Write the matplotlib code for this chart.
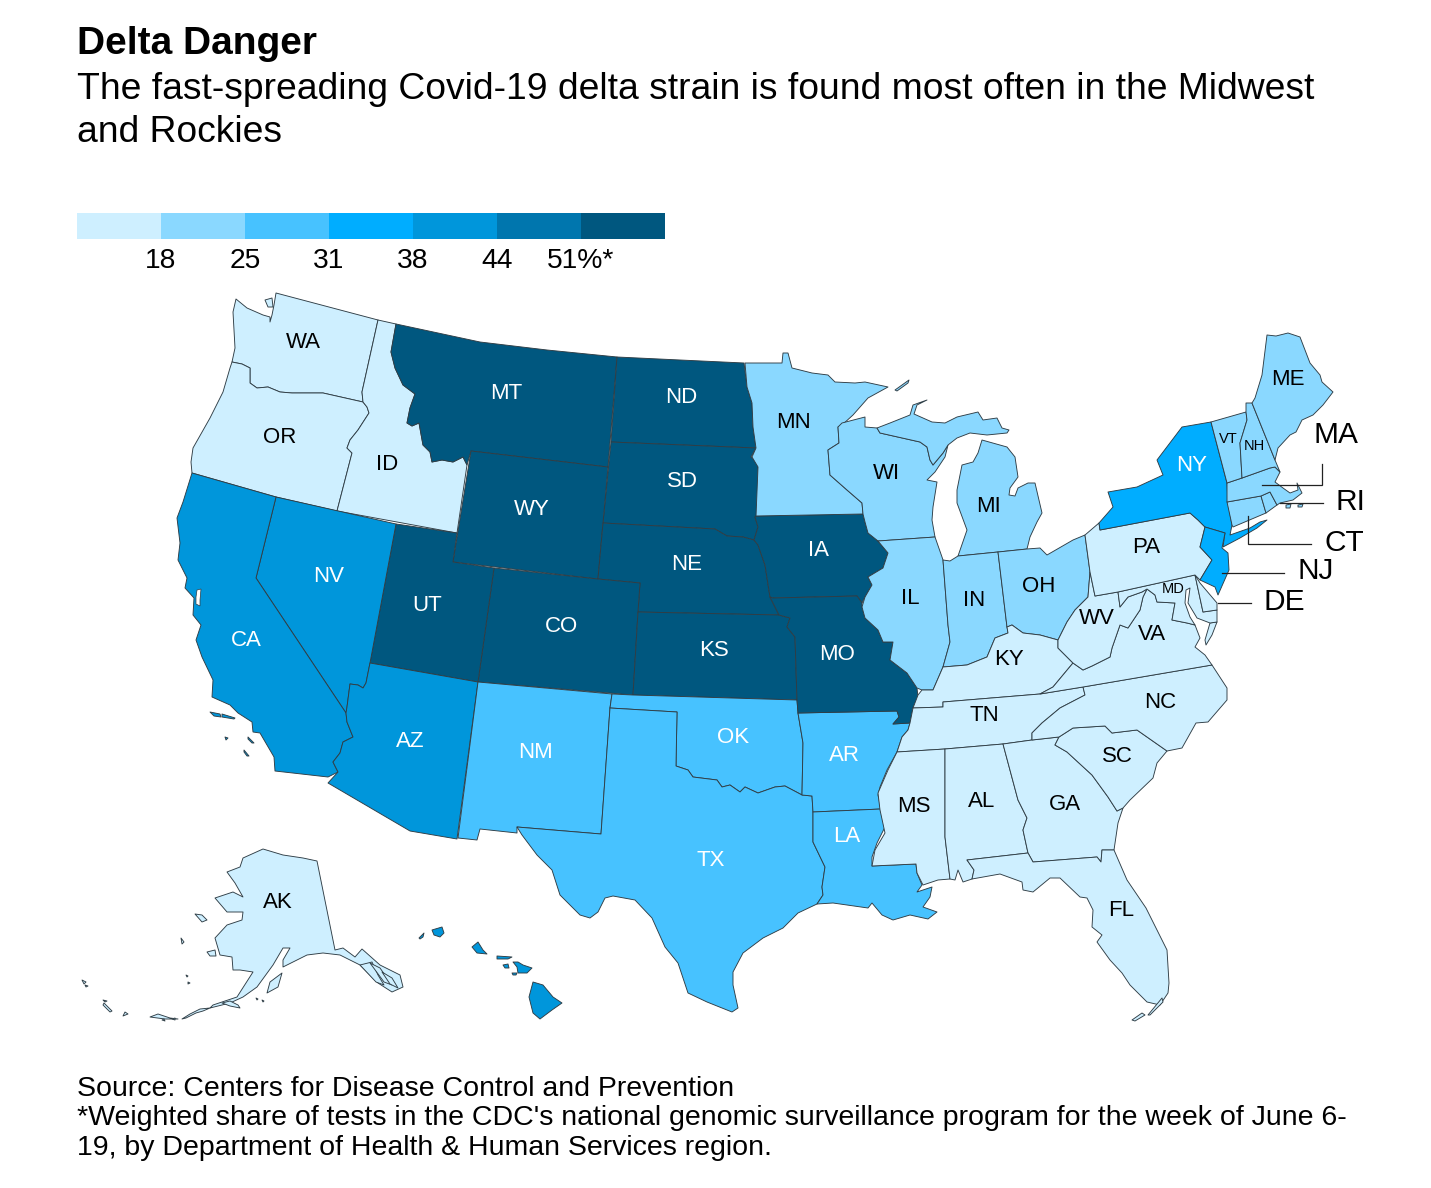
import matplotlib
matplotlib.use("Agg")
import matplotlib.pyplot as plt
from matplotlib.colors import ListedColormap, BoundaryNorm
from matplotlib.patches import Polygon

plt.rcParams['font.family'] = ['Liberation Sans', 'DejaVu Sans']

TITLE = "Delta Danger"
SUBTITLE = ["The fast-spreading Covid-19 delta strain is found most often in the Midwest", "and Rockies"]
SOURCE = ["Source: Centers for Disease Control and Prevention",
          "*Weighted share of tests in the CDC's national genomic surveillance program for the week of June 6-",
          "19, by Department of Health & Human Services region."]

BIN_EDGES = [0, 18, 25, 31, 38, 44, 51, 100]
BIN_LABELS = ["18", "25", "31", "38", "44", "51%*"]
BIN_COLORS = ["#CEEFFF", "#8AD8FF", "#47C2FF", "#00ADFF", "#0096DB", "#0076AE", "#00577F"]

REGION_SHARE = {
    14: ["WA", "OR", "ID", "AK", "PA", "DE", "MD", "VA", "WV", "KY", "TN", "NC", "SC", "GA", "FL", "AL", "MS"],
    21: ["MN", "WI", "MI", "IL", "IN", "OH", "ME", "NH", "VT", "MA", "CT", "RI"],
    28: ["TX", "NM", "OK", "AR", "LA"],
    34: ["NY", "NJ"],
    41: ["CA", "NV", "AZ", "HI"],
    55: ["MT", "ND", "SD", "WY", "UT", "CO", "NE", "KS", "IA", "MO"],
}

OUTLINES = {
"WA": [[(276,293),(378,320),(362,392),(363,402),(323,393),(303,393),(292,393),(280,392),(268,387),(257,388),(250,383),(250,368),(242,364),(232,362),(235,348),(233,312),(236,299),(247,308),(263,315),(270,317),(270,322),(272,315),(274,305)],
       [(265,300),(272,298),(273,307),(268,307)]],
"OR": [[(232,362),(242,364),(250,368),(250,383),(257,388),(268,387),(280,392),(292,393),(303,393),(323,393),(363,402),(367,407),(369,413),(358,430),(350,440),(347,448),(352,453),(337,511),(276,497),(192,473),(191,462),(193,448),(210,418),(223,392),(230,368)]],
"ID": [[(378,320),(396,324),(391,352),(395,368),(403,385),(415,394),(410,408),(407,423),(412,426),(419,423),(423,445),(430,452),(432,462),(442,460),(453,462),(463,457),(467,465),(457,533),(337,511),(352,453),(347,448),(350,440),(358,430),(369,413),(367,407),(363,402),(362,392)]],
"MT": [[(396,324),(480,342),(547,350),(617,357),(608,467),(471,451),(467,465),(463,457),(453,462),(442,460),(432,462),(430,452),(423,445),(419,423),(412,426),(407,423),(410,408),(415,394),(403,385),(395,368),(391,352)]],
"ND": [[(617,357),(680,360),(744,363),(747,387),(752,403),(753,427),(756,448),(611,442)]],
"SD": [[(611,442),(756,448),(751,457),(758,463),(758,517),(755,517),(758,527),(754,540),(743,537),(727,536),(715,529),(603,523)]],
"WY": [[(471,451),(608,467),(598,579),(453,562)]],
"NE": [[(603,523),(715,529),(727,536),(743,537),(754,540),(758,545),(765,565),(770,597),(779,615),(638,612),(640,583),(598,579)]],
"CO": [[(494,568),(598,579),(640,583),(638,612),(633,695),(478,682)]],
"KS": [[(638,612),(779,615),(790,618),(787,627),(795,637),(797,700),(633,695)]],
"UT": [[(396,524),(457,533),(453,562),(494,568),(478,682),(370,663)]],
"NV": [[(276,497),(396,524),(370,663),(366,683),(363,688),(358,685),(350,684),(347,707),(346,713),(256,578)]],
"CA": [[(192,473),(276,497),(256,578),(346,713),(347,722),(353,737),(343,742),(340,753),(333,762),(338,772),(328,777),(275,771),(274,757),(260,733),(253,732),(252,722),(238,713),(230,705),(212,697),(213,680),(202,657),(196,640),(201,625),(193,615),(194,598),(185,588),(187,578),(178,560),(180,543),(177,518),(183,502)],
       [(210,712),(220,714),(221,717),(214,716)],[(222,714),(235,718),(234,719),(222,717)],[(248,737),(254,743),(252,743),(248,739)],[(244,750),(249,756),(247,756),(244,752)],[(225,737),(228,738),(226,740)]],
"AZ": [[(370,663),(478,682),(457,839),(410,831),(328,783),(338,772),(333,762),(340,753),(343,742),(353,737),(347,722),(346,713),(347,707),(350,684),(358,685),(363,688),(366,683)]],
"NM": [[(478,682),(612,694),(610,708),(601,834),(517,827),(517,833),(480,829),(477,840),(458,838)]],
"OK": [[(612,694),(633,695),(797,700),(798,713),(803,743),(802,795),(785,786),(775,787),(758,793),(745,787),(740,792),(730,785),(722,787),(717,780),(693,777),(688,770),(676,766),(677,712),(610,708)]],
"TX": [[(610,708),(677,712),(676,766),(688,770),(693,777),(717,780),(722,787),(730,785),(740,792),(745,787),(758,793),(775,787),(785,786),(802,795),(812,796),(813,812),(813,842),(825,867),(822,887),(823,895),(817,904),(798,913),(783,928),(763,938),(743,953),(733,972),(733,985),(738,1008),(732,1012),(707,1002),(688,993),(678,963),(665,947),(652,918),(635,900),(613,896),(605,898),(598,912),(590,918),(580,915),(560,895),(552,870),(537,855),(522,835),(517,827),(601,834)]],
"AR": [[(798,713),(897,711),(899,717),(893,724),(910,723),(908,730),(902,737),(897,752),(887,770),(880,787),(878,795),(881,809),(813,812),(812,796),(802,795),(803,743)]],
"LA": [[(813,812),(881,809),(885,827),(877,843),(872,857),(872,866),(916,864),(917,873),(922,885),(917,892),(932,887),(930,897),(923,907),(937,912),(928,919),(910,915),(893,920),(882,915),(872,903),(868,908),(833,903),(817,904),(823,895),(822,887),(825,867),(813,842)]],
"IA": [[(756,516),(863,514),(865,522),(868,533),(878,541),(888,553),(883,568),(868,577),(872,585),(865,597),(862,603),(857,596),(773,598),(770,597),(765,565),(758,545),(754,540),(758,527),(755,517)]],
"MO": [[(773,598),(857,596),(862,603),(862,607),(865,618),(878,630),(883,642),(893,642),(890,660),(907,673),(917,688),(918,697),(913,708),(910,723),(893,724),(899,717),(897,711),(798,713),(797,700),(795,637),(787,627),(790,618),(779,615),(770,597)]],
"MN": [[(745,363),(782,363),(783,353),(788,353),(792,368),(812,373),(828,375),(835,382),(855,383),(865,382),(888,387),(868,398),(853,415),(842,425),(838,427),(839,443),(828,450),(830,475),(847,490),(862,503),(863,514),(756,516),(758,467),(752,457),(756,448),(753,427),(752,403),(747,387)],
       [(895,390),(909,380),(908,383),(897,391)]],
"WI": [[(838,427),(842,423),(865,417),(865,427),(877,428),(880,433),(920,442),(927,447),(930,460),(933,465),(943,453),(948,445),(945,457),(935,472),(927,480),(937,482),(933,507),(932,520),(935,537),(878,541),(868,533),(865,522),(863,514),(862,503),(847,490),(830,475),(828,450),(839,443)]],
"MI": [[(877,428),(890,423),(910,415),(913,405),(927,400),(917,405),(914,414),(932,422),(945,423),(957,417),(978,412),(983,420),(997,418),(1002,428),(1009,430),(1007,433),(987,435),(970,433),(957,438),(948,445),(943,453),(933,465),(930,460),(927,447),(920,442),(880,433)],
       [(982,440),(1007,447),(1015,457),(1018,477),(1010,488),(1009,495),(1015,496),(1018,488),(1028,483),(1035,483),(1042,513),(1037,522),(1030,537),(1027,549),(998,552),(958,556),(967,530),(957,503),(957,490),(962,465),(973,462),(978,453)]],
"IL": [[(878,541),(935,537),(942,557),(943,560),(948,625),(950,642),(943,667),(933,690),(922,690),(917,688),(907,673),(890,660),(893,642),(883,642),(878,630),(865,618),(862,607),(865,597),(872,585),(868,577),(883,568),(888,553)]],
"IN": [[(943,560),(950,561),(958,556),(998,552),(1007,627),(1008,633),(995,638),(987,657),(967,665),(943,667),(950,642),(948,625)]],
"OH": [[(998,552),(1027,549),(1040,548),(1047,555),(1073,540),(1085,535),(1090,572),(1088,597),(1075,610),(1067,622),(1058,640),(1040,635),(1023,633),(1012,625),(1007,627)]],
"KY": [[(1058,640),(1040,635),(1023,633),(1012,625),(1007,627),(1008,633),(995,638),(987,657),(967,665),(943,667),(933,690),(922,690),(918,695),(913,708),(943,707),(943,702),(1040,694),(1053,687),(1073,663),(1058,648)]],
"TN": [[(913,708),(943,707),(943,702),(1040,694),(1083,687),(1085,695),(1060,708),(1042,723),(1032,733),(1032,740),(1003,744),(945,749),(897,752),(902,737),(908,730),(910,723)]],
"MS": [[(897,752),(945,749),(945,837),(950,879),(938,880),(923,885),(917,873),(916,864),(872,866),(875,850),(885,833),(880,810),(878,793),(888,770)]],
"AL": [[(945,749),(1003,744),(1018,800),(1027,818),(1023,830),(1028,853),(967,860),(974,870),(972,879),(963,882),(958,870),(955,880),(950,879),(945,837)]],
"GA": [[(1003,744),(1032,740),(1059,737),(1055,745),(1067,752),(1092,775),(1108,797),(1117,811),(1123,808),(1118,823),(1114,850),(1102,850),(1101,862),(1097,857),(1033,862),(1028,853),(1023,830),(1027,818),(1018,800)]],
"SC": [[(1059,737),(1073,728),(1105,726),(1112,733),(1137,730),(1167,751),(1157,763),(1153,778),(1130,800),(1123,808),(1117,811),(1108,797),(1092,775),(1067,752),(1055,745)]],
"NC": [[(1083,687),(1212,665),(1227,688),(1227,700),(1208,722),(1196,723),(1182,748),(1167,751),(1137,730),(1112,733),(1105,726),(1073,728),(1059,737),(1032,740),(1032,733),(1042,723),(1060,708),(1085,695)]],
"FL": [[(967,860),(1028,853),(1033,862),(1097,857),(1101,862),(1102,850),(1114,850),(1127,880),(1146,908),(1167,950),(1169,983),(1168,993),(1160,1005),(1147,1002),(1130,985),(1122,973),(1110,960),(1097,942),(1102,935),(1092,927),(1093,910),(1087,898),(1080,897),(1060,878),(1050,878),(1033,892),(1023,890),(1022,882),(1000,874),(972,879),(974,870)],
       [(1132,1020),(1142,1013),(1145,1015),(1135,1021)],[(1148,1015),(1162,998),(1163,1002),(1150,1015)]],
"VA": [[(1073,663),(1083,670),(1092,666),(1110,657),(1112,648),(1120,625),(1128,628),(1140,610),(1143,597),(1147,589),(1155,595),(1157,602),(1175,603),(1172,620),(1187,623),(1195,625),(1200,638),(1195,647),(1205,655),(1212,665),(1083,687),(1040,694),(1053,687)],
       [(1217,622),(1210,623),(1205,640),(1206,645),(1212,635)]],
"WV": [[(1073,663),(1083,670),(1092,666),(1110,657),(1112,648),(1120,625),(1128,628),(1140,610),(1143,597),(1147,589),(1142,592),(1128,597),(1120,607),(1118,592),(1095,596),(1090,572),(1088,597),(1075,610),(1067,622),(1058,640),(1058,648)]],
"MD": [[(1118,592),(1195,575),(1203,612),(1217,610),(1217,622),(1210,623),(1197,618),(1188,603),(1190,588),(1186,590),(1185,603),(1190,617),(1195,625),(1187,623),(1172,620),(1175,603),(1157,602),(1155,595),(1147,589),(1142,592),(1128,597),(1120,607)]],
"DE": [[(1195,575),(1200,583),(1217,603),(1217,610),(1203,612)]],
"PA": [[(1085,535),(1099,523),(1100,530),(1190,513),(1198,520),(1205,527),(1200,547),(1212,560),(1200,580),(1195,575),(1118,592),(1095,596),(1090,572)]],
"NY": [[(1100,530),(1099,523),(1113,507),(1108,492),(1137,487),(1163,475),(1157,460),(1182,427),(1211,422),(1227,483),(1228,503),(1232,525),(1230,535),(1250,528),(1260,522),(1267,520),(1257,528),(1240,538),(1223,547),(1225,533),(1205,527),(1198,520),(1190,513)]],
"NJ": [[(1205,527),(1225,533),(1222,548),(1228,553),(1229,570),(1218,595),(1215,587),(1200,580),(1212,560),(1200,547)]],
"CT": [[(1227,502),(1261,496),(1266,513),(1233,527),(1232,525)]],
"RI": [[(1261,496),(1270,492),(1277,505),(1266,513)]],
"MA": [[(1227,483),(1242,478),(1270,468),(1275,467),(1280,472),(1275,482),(1283,488),(1290,493),(1298,490),(1297,483),(1302,493),(1293,500),(1280,503),(1277,505),(1270,492),(1261,496),(1227,502)],
       [(1286,505),(1291,504),(1290,508),(1286,508)],[(1298,505),(1303,504),(1302,507),(1298,507)]],
"VT": [[(1211,422),(1246,412),(1247,420),(1240,443),(1242,478),(1227,483)]],
"NH": [[(1246,412),(1246,403),(1252,403),(1275,460),(1280,472),(1275,467),(1270,468),(1242,478),(1240,443),(1247,420)]],
"ME": [[(1252,403),(1255,398),(1262,375),(1267,335),(1276,336),(1288,333),(1300,337),(1310,363),(1320,375),(1322,382),(1333,392),(1323,405),(1313,415),(1302,420),(1296,432),(1290,435),(1278,448),(1275,460)]],
"AK": [[(317,861),(335,950),(343,948),(355,957),(362,949),(380,965),(400,975),(403,987),(392,992),(378,983),(360,965),(340,955),(323,953),(307,955),(283,967),(283,960),(290,948),(283,948),(273,965),(257,987),(243,997),(230,1003),(210,1008),(213,1005),(237,997),(253,972),(240,970),(233,970),(232,957),(220,955),(215,938),(227,925),(242,920),(243,912),(227,912),(215,898),(233,892),(243,897),(235,883),(227,872),(240,867),(243,858),(263,849),(283,855),(303,858)],
       [(267,993),(270,982),(282,973),(278,987)],[(207,952),(215,950),(216,956),(210,956)],[(195,914),(202,915),(207,920),(202,922)],
       [(360,965),(372,962),(378,975),(384,985),(376,982)],[(370,963),(380,968),(392,985),(384,982)],[(382,972),(392,978),(398,988),(390,984)],
       [(210,1008),(203,1011),(196,1013),(186,1018),(182,1019),(190,1014),(200,1009)],[(222,1003),(230,1001),(238,1005),(240,1008),(230,1006)],
       [(158,1014),(170,1018),(178,1019),(165,1019),(150,1017)],[(125,1012),(128,1014),(123,1016)],[(172,1019),(175,1018),(175,1020)],[(162,1020),(164,1019),(165,1021)],
       [(104,1003),(112,1011),(110,1012),(103,1005)],[(82,980),(86,982),(84,984)],[(85,985),(88,986),(86,987)],[(103,1000),(107,1001),(105,1002)],
       [(181,938),(184,942),(182,944)],[(186,975),(188,976),(187,977)],[(188,982),(190,983),(188,984)],[(256,998),(258,999),(257,1000)],[(262,1000),(264,1001),(263,1002)]],
"HI": [[(432,930),(442,927),(444,933),(440,937),(434,935)],[(419,938),(424,933),(423,937),(420,939)],[(472,947),(478,942),(483,950),(487,954),(477,953)],
       [(497,956),(512,957),(508,959),(497,959)],[(503,965),(508,964),(509,968),(505,968)],[(513,962),(518,962),(523,965),(532,968),(527,973),(518,973),(517,967)],
       [(512,973),(517,973),(516,975),(513,975)],[(533,982),(543,985),(553,997),(562,1003),(552,1010),(540,1019),(533,1013),(529,997)]],
}
BAY_WATER = [(197,590),(201,589),(200,600),(200,606),(196,604),(196,597)]

STATE_LABELS = {"WA":(303,341),"OR":(280,436),"ID":(387,463),"MT":(506,392),"ND":(681,396),"SD":(682,480),"WY":(532,508),
 "NV":(329,575),"UT":(427,604),"CO":(561,625),"NE":(687,563),"KS":(714,649),"IA":(818,549),"MO":(837,653),"MN":(794,421),
 "WI":(886,472),"MI":(989,505),"IL":(910,597),"IN":(974,599),"OH":(1039,585),"KY":(1009,658),"TN":(984,714),"MS":(914,805),
 "AL":(982,800),"GA":(1065,803),"SC":(1117,755),"NC":(1160,701),"VA":(1152,633),"WV":(1097,617),"PA":(1146,546),"NY":(1192,464),
 "ME":(1288,378),"FL":(1121,909),"TX":(711,859),"LA":(847,835),"AR":(844,754),"OK":(733,736),"NM":(536,751),"AZ":(410,740),
 "CA":(246,639),"AK":(278,901)}
SMALL_LABELS = {"VT":(1228,438),"NH":(1254,445),"MD":(1173,588)}
CALLOUT_LABELS = {"MA":(1336,433),"RI":(1350,500),"CT":(1344,541),"NJ":(1316,569),"DE":(1284,600)}
CALLOUT_LINES = [[(1262,485),(1322,485),(1322,464)],[(1280,503),(1323,503)],[(1248,516),(1248,544),(1311,544)],[(1222,573),(1284,573)],[(1218,603),(1251,603)]]

fig = plt.figure(figsize=(14.31, 11.88), dpi=100, facecolor="white")
ax = fig.add_axes([0, 0, 1, 1])
ax.set_xlim(0, 1431); ax.set_ylim(1188, 0); ax.axis("off")

cmap = ListedColormap(BIN_COLORS)
norm = BoundaryNorm(BIN_EDGES, cmap.N)
share = {s: v for v, states in REGION_SHARE.items() for s in states}
EDGE = "#2f3d45"

for state, rings in OUTLINES.items():
    for ring in rings:
        ax.add_patch(Polygon(ring, closed=True, facecolor=cmap(norm(share[state])), edgecolor=EDGE, linewidth=0.65, joinstyle="round"))
ax.add_patch(Polygon(BAY_WATER, closed=True, facecolor="white", edgecolor=EDGE, linewidth=0.5))

def label_color(s):
    return "white" if share[s] > 25 else "black"

for s, (x, y) in STATE_LABELS.items():
    ax.text(x, y + 1.5, s, fontsize=16, color=label_color(s), ha="center", va="center")
for s, (x, y) in SMALL_LABELS.items():
    ax.text(x, y + 1, s, fontsize=10.5, color=label_color(s), ha="center", va="center")
for s, (x, y) in CALLOUT_LABELS.items():
    ax.text(x, y + 2, s, fontsize=21.5, color="black", ha="center", va="center")
for line in CALLOUT_LINES:
    ax.plot(*zip(*line), color="#222222", lw=0.9, solid_joinstyle="miter")

# legend
leg_x0, leg_w, leg_top, leg_h = 77, 84, 213, 25.5
for i, c in enumerate(BIN_COLORS):
    ax.bar(leg_x0 + i * leg_w, leg_h, width=leg_w, bottom=leg_top, align="edge", color=c, linewidth=0)
for i, t in enumerate(BIN_LABELS):
    ax.text(leg_x0 + (i + 1) * leg_w, 268.5, t, fontsize=20.3, ha="center", va="baseline", color="black")

ax.text(77, 54, TITLE, fontsize=28, fontweight="bold", va="baseline", color="black")
for y, t in zip((99, 142), SUBTITLE):
    ax.text(77, y, t, fontsize=26.85, va="baseline", color="black")
for y, t in zip((1096, 1125, 1155), SOURCE):
    ax.text(77, y, t, fontsize=20.5, va="baseline", color="black")

fig.savefig("out.png", dpi=100, facecolor="white")
